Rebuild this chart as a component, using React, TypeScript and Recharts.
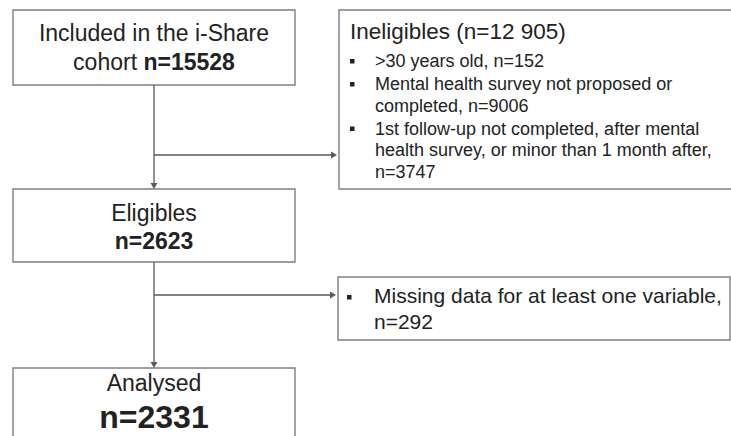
import { ComposedChart, ReferenceArea, ReferenceLine, XAxis, YAxis } from "recharts";

// Flow counts
const stageCounts = [15528, 2623, 2331];
const ineligibleCounts = [152, 9006, 3747];
const missingCounts = [292];

// Text, already broken into lines as in the original figure
const includedLines = ["Included in the i-Share", "cohort "];
const eligibleLines = ["Eligibles"];
const analysedLines = ["Analysed"];
const ineligibleTitle = "Ineligibles";
const ineligibleReasons = [
  [">30 years old, "],
  ["Mental health survey not proposed or", "completed, "],
  ["1st follow-up not completed, after mental", "health survey, or minor than 1 month after,", ""],
];
const missingReasons = [["Missing data for at least one variable,", ""]];

const W = 731;
const H = 436;
const TEXT = "#222222";
const BORDER = "#7f7f7f";
const ARROW = "#595959";
const FONT = "'Liberation Sans', Arial, sans-serif";

const spaced = (n: number) => String(n).replace(/\B(?=(\d{3})+(?!\d))/g, " ");
const ineligibleTotal = ineligibleCounts.reduce((a, b) => a + b, 0);

type VB = { x: number; y: number; width: number; height: number };

const StageText = ({ viewBox, lines, count, first, second, countSize, inline }: any) => {
  const vb = viewBox as VB;
  const cx = vb.x + (Math.min(vb.x + vb.width, 295) - vb.x) / 2;
  if (inline) {
    return (
      <g fontFamily={FONT} fill={TEXT}>
        <text x={cx} y={vb.y + first} textAnchor="middle" fontSize={23}>{lines[0]}</text>
        <text x={cx} y={vb.y + second} textAnchor="middle" fontSize={23}>
          {lines[1]}
          <tspan fontWeight="bold">n={count}</tspan>
        </text>
      </g>
    );
  }
  return (
    <g fontFamily={FONT} fill={TEXT}>
      <text x={cx} y={vb.y + first} textAnchor="middle" fontSize={23}>{lines[0]}</text>
      <text x={cx} y={vb.y + second} textAnchor="middle" fontSize={countSize} fontWeight="bold">n={count}</text>
    </g>
  );
};

const BulletText = ({ viewBox, title, reasons, counts, fontSize, bulletX, textX, startY, lineH, gap }: any) => {
  const vb = viewBox as VB;
  const items: any[] = [];
  let y = vb.y + startY;
  reasons.forEach((lines: string[], i: number) => {
    items.push(<rect key={"b" + i} x={vb.x + bulletX} y={y - 8} width={4.5} height={4.5} fill={TEXT} />);
    lines.forEach((l: string, j: number) => {
      const last = j === lines.length - 1;
      items.push(
        <text key={i + "-" + j} x={vb.x + textX} y={y} fontSize={fontSize}>
          {l}
          {last ? "n=" + counts[i] : ""}
        </text>
      );
      y += lineH;
    });
    y += gap;
  });
  return (
    <g fontFamily={FONT} fill={TEXT}>
      {title && (
        <text x={vb.x + 11} y={vb.y + 29} fontSize={22.5}>{title}</text>
      )}
      {items}
    </g>
  );
};

const Arrow = (props: any) => {
  const { x1, y1, x2, y2 } = props;
  const horiz = Math.abs(y2 - y1) < 0.5;
  const s = 6;
  const head = horiz
    ? `${x2},${y2} ${x2 - s},${y2 - s / 2 - 0.5} ${x2 - s},${y2 + s / 2 + 0.5}`
    : `${x2},${y2} ${x2 - s / 2 - 0.5},${y2 - s} ${x2 + s / 2 + 0.5},${y2 - s}`;
  return (
    <g>
      <line x1={x1} y1={y1} x2={horiz ? x2 - s : x2} y2={horiz ? y2 : y2 - s} stroke={ARROW} strokeWidth={1.3} />
      <polygon points={head} fill={ARROW} />
    </g>
  );
};

const boxProps = { fill: "#ffffff", fillOpacity: 1, stroke: BORDER, strokeWidth: 1.4, ifOverflow: "visible" as const };

export default function App() {
  return (
    <div style={{ position: "absolute", left: 0, top: 0, width: W, height: H, background: "#fff" }}>
      <ComposedChart width={W} height={H} margin={{ top: 0, right: 0, bottom: 0, left: 0 }}>
        <XAxis type="number" dataKey="x" domain={[0, W]} hide allowDataOverflow />
        <YAxis type="number" dataKey="y" domain={[0, H]} reversed hide allowDataOverflow />

        <ReferenceLine segment={[{ x: 154, y: 85 }, { x: 154, y: 189 }]} ifOverflow="visible" shape={Arrow} />
        <ReferenceLine segment={[{ x: 154, y: 155 }, { x: 337, y: 155 }]} ifOverflow="visible" shape={Arrow} />
        <ReferenceLine segment={[{ x: 154, y: 262 }, { x: 154, y: 368 }]} ifOverflow="visible" shape={Arrow} />
        <ReferenceLine segment={[{ x: 154, y: 295 }, { x: 336, y: 295 }]} ifOverflow="visible" shape={Arrow} />

        <ReferenceArea
          x1={13} x2={295} y1={10} y2={85} {...boxProps}
          label={{ content: (p: any) => <StageText viewBox={p.viewBox} lines={includedLines} count={stageCounts[0]} first={31} second={60} inline /> }}
        />
        <ReferenceArea
          x1={13} x2={295} y1={189} y2={262} {...boxProps}
          label={{ content: (p: any) => <StageText viewBox={p.viewBox} lines={eligibleLines} count={stageCounts[1]} first={32} second={60} countSize={23} /> }}
        />
        <ReferenceArea
          x1={13} x2={295} y1={368} y2={460} {...boxProps}
          label={{ content: (p: any) => <StageText viewBox={p.viewBox} lines={analysedLines} count={stageCounts[2]} first={23} second={60} countSize={32} /> }}
        />
        <ReferenceArea
          x1={339} x2={760} y1={10} y2={189} {...boxProps}
          label={{
            content: (p: any) => (
              <BulletText
                viewBox={p.viewBox}
                title={`${ineligibleTitle} (n=${spaced(ineligibleTotal)})`}
                reasons={ineligibleReasons}
                counts={ineligibleCounts}
                fontSize={18}
                bulletX={11}
                textX={36}
                startY={57}
                lineH={21.5}
                gap={1.5}
              />
            ),
          }}
        />
        <ReferenceArea
          x1={338} x2={730} y1={277} y2={340} {...boxProps}
          label={{
            content: (p: any) => (
              <BulletText
                viewBox={p.viewBox}
                reasons={missingReasons}
                counts={missingCounts}
                fontSize={21}
                bulletX={9}
                textX={36}
                startY={26}
                lineH={26}
                gap={0}
              />
            ),
          }}
        />
      </ComposedChart>
    </div>
  );
}
